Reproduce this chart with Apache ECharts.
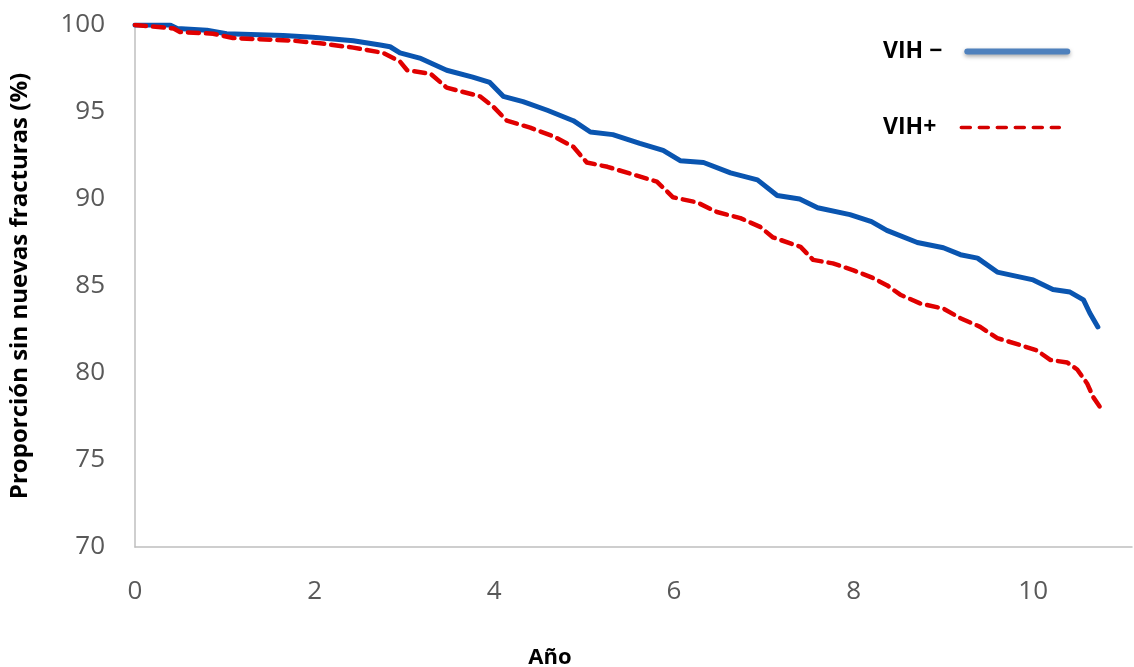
<!DOCTYPE html>
<html>
<head>
<meta charset="utf-8">
<script src="https://cdn.jsdelivr.net/npm/echarts@6/dist/echarts.min.js"></script>
<style>
  html, body { margin: 0; padding: 0; background: #fff; }
  #chart { width: 1134px; height: 667px; }
</style>
</head>
<body>
<div id="chart"></div>
<script>
// VIH- (solid blue)
const vihNegYears = [0, 0.39, 0.47, 0.8, 1.02, 1.65, 1.98, 2.43, 2.73, 2.84, 2.95, 3.17, 3.47, 3.76, 3.95, 4.1, 4.32, 4.59, 4.88, 5.07, 5.32, 5.62, 5.88, 6.07, 6.33, 6.63, 6.93, 7.15, 7.4, 7.6, 7.96, 8.2, 8.37, 8.71, 9.0, 9.19, 9.38, 9.6, 10.0, 10.22, 10.41, 10.56, 10.63, 10.72];
const vihNegValues = [100, 100, 99.8, 99.7, 99.5, 99.4, 99.3, 99.1, 98.85, 98.75, 98.4, 98.1, 97.4, 97.0, 96.7, 95.9, 95.6, 95.1, 94.5, 93.85, 93.7, 93.2, 92.8, 92.2, 92.1, 91.5, 91.1, 90.2, 90.0, 89.5, 89.1, 88.7, 88.2, 87.5, 87.2, 86.8, 86.6, 85.8, 85.35, 84.8, 84.65, 84.2, 83.45, 82.65];

// VIH+ (dashed red)
const vihPosYears = [0, 0.43, 0.5, 0.87, 1.09, 1.76, 2.06, 2.43, 2.76, 2.95, 3.03, 3.29, 3.47, 3.84, 3.99, 4.14, 4.4, 4.66, 4.88, 5.03, 5.26, 5.55, 5.81, 5.99, 6.26, 6.48, 6.74, 6.96, 7.1, 7.41, 7.55, 7.77, 8.0, 8.22, 8.37, 8.52, 8.74, 9.0, 9.19, 9.41, 9.6, 9.86, 10.04, 10.19, 10.38, 10.49, 10.6, 10.67, 10.75];
const vihPosValues = [100, 99.8, 99.6, 99.5, 99.25, 99.1, 98.95, 98.7, 98.4, 97.9, 97.4, 97.2, 96.4, 95.9, 95.3, 94.5, 94.1, 93.6, 93.0, 92.1, 91.85, 91.4, 91.0, 90.1, 89.8, 89.25, 88.9, 88.4, 87.8, 87.25, 86.5, 86.3, 85.9, 85.45, 85.05, 84.5, 84.0, 83.7, 83.15, 82.65, 82.0, 81.6, 81.3, 80.75, 80.6, 80.2, 79.4, 78.6, 78.0];

const seriesNames = ['VIH \u2212', 'VIH+'];
const yAxisTitle = 'Proporción sin nuevas fracturas (%)';
const xAxisTitle = 'Año';

const pairs = (xs, ys) => xs.map((x, i) => [x, ys[i]]);

const legendText = {
    fontFamily: 'Open Sans', fontWeight: 'bold', fontSize: 23, color: '#000',
    padding: [0, 20, 0, 0]
};

const chart = echarts.init(document.getElementById('chart'));

chart.setOption({
    animation: false,
    title: {
        text: xAxisTitle,
        left: 545,
        top: 642,
        textAlign: 'center',
        textStyle: { fontFamily: 'Open Sans', fontWeight: 'bold', fontSize: 22, color: '#000' }
    },
    // one legend per series so both labels start at the same x
    legend: [
        {
            left: 878,
            top: 35,
            align: 'right',
            itemWidth: 100,
            itemHeight: 24,
            textStyle: legendText,
            itemStyle: { opacity: 0 },
            data: [{
                name: seriesNames[0],
                lineStyle: { color: '#4f81bd', width: 6, shadowBlur: 4, shadowColor: 'rgba(0,0,0,0.35)', shadowOffsetY: 2 }
            }]
        },
        {
            left: 878,
            top: 111,
            align: 'right',
            itemWidth: 98,
            itemHeight: 24,
            textStyle: legendText,
            itemStyle: { opacity: 0 },
            data: [{
                name: seriesNames[1],
                lineStyle: { color: '#d40000', width: 3.5, type: [9, 9] }
            }]
        }
    ],
    grid: { left: 135, right: 2, top: 25, bottom: 120 },
    xAxis: {
        type: 'value',
        min: 0,
        max: 11.1,
        interval: 2,
        axisLine: { show: true, lineStyle: { color: '#bfbfbf', width: 1.5 } },
        axisTick: { show: false },
        splitLine: { show: false },
        axisLabel: {
            showMaxLabel: false,
            margin: 32,
            fontFamily: 'Open Sans', fontSize: 26, color: '#595959'
        }
    },
    yAxis: {
        type: 'value',
        min: 70,
        max: 100,
        interval: 5,
        name: yAxisTitle,
        nameLocation: 'middle',
        nameGap: 103,
        nameTextStyle: { fontFamily: 'Open Sans', fontWeight: 'bold', fontSize: 24, color: '#000' },
        axisLine: { show: true, lineStyle: { color: '#bfbfbf', width: 1.5 } },
        axisTick: { show: false },
        splitLine: { show: false },
        axisLabel: {
            margin: 30,
            fontFamily: 'Open Sans', fontSize: 26, color: '#595959'
        }
    },
    series: [
        {
            name: seriesNames[0],
            type: 'line',
            symbol: 'none',
            data: pairs(vihNegYears, vihNegValues),
            lineStyle: { color: '#0a55b0', width: 5, cap: 'round', join: 'round' },
            itemStyle: { color: '#0a55b0' },
            z: 2
        },
        {
            name: seriesNames[1],
            type: 'line',
            symbol: 'none',
            data: pairs(vihPosYears, vihPosValues),
            lineStyle: { color: '#e00000', width: 4.5, type: [11, 7], cap: 'round', join: 'round' },
            itemStyle: { color: '#e00000' },
            z: 3
        }
    ]
});
</script>
</body>
</html>
